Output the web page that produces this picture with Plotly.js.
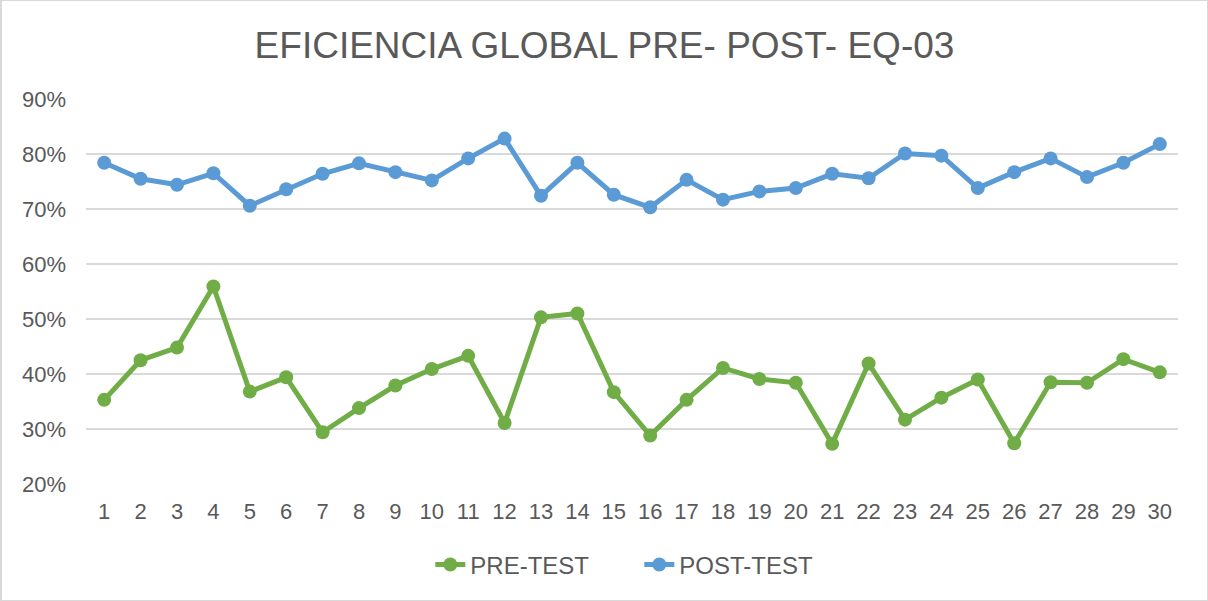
<!DOCTYPE html>
<html>
<head>
<meta charset="utf-8">
<script src="https://cdn.plot.ly/plotly-3.0.1.min.js"></script>
<style>
html,body{margin:0;padding:0;background:#fff;}
#chart{width:1208px;height:601px;box-sizing:border-box;border:1px solid #d9d9d9;border-left:2px solid #d9d9d9;}
</style>
</head>
<body>
<div id="chart"></div>
<script>
const categories = ['1','2','3','4','5','6','7','8','9','10','11','12','13','14','15','16','17','18','19','20','21','22','23','24','25','26','27','28','29','30'];
const preTest = [35.3,42.5,44.8,55.9,36.8,39.4,29.4,33.8,37.9,40.9,43.3,31.1,50.3,51.0,36.7,28.8,35.3,41.1,39.1,38.4,27.3,41.9,31.7,35.7,39.0,27.4,38.5,38.4,42.7,40.3];
const postTest = [78.4,75.5,74.4,76.5,70.6,73.6,76.4,78.3,76.7,75.2,79.2,82.8,72.4,78.4,72.6,70.3,75.3,71.7,73.2,73.8,76.4,75.6,80.1,79.7,73.8,76.7,79.2,75.8,78.4,81.8];
const yTicks = [20,30,40,50,60,70,80,90];

const traces = [
  {x: categories, y: preTest, name: 'PRE-TEST', type: 'scatter', mode: 'lines+markers',
   line: {color: '#70AD47', width: 5}, marker: {color: '#70AD47', size: 14}},
  {x: categories, y: postTest, name: 'POST-TEST', type: 'scatter', mode: 'lines+markers',
   line: {color: '#5B9BD5', width: 5}, marker: {color: '#5B9BD5', size: 14}}
];

const layout = {
  width: 1205, height: 599,
  margin: {l: 84, r: 29, t: 98, b: 116},
  paper_bgcolor: '#fff', plot_bgcolor: '#fff',
  font: {family: '"Liberation Sans", Arial, sans-serif', color: '#595959', size: 22},
  title: {text: 'EFICIENCIA GLOBAL PRE- POST- EQ-03', x: 0.5, xanchor: 'center', xref: 'container',
          y: 0.926, yanchor: 'middle', yref: 'container',
          font: {size: 37, color: '#595959'}},
  xaxis: {type: 'category', range: [-0.5, 29.5], showgrid: false, zeroline: false, showline: false, ticks: '',
          ticklabelstandoff: 12, tickfont: {size: 22, color: '#595959'}, fixedrange: true},
  yaxis: {range: [20, 90], tickvals: yTicks, ticktext: yTicks.map(v => v + '%'),
          showgrid: true, gridcolor: '#d9d9d9', gridwidth: 1.5, zeroline: false, showline: false, ticks: '',
          ticklabelstandoff: 19, tickfont: {size: 22, color: '#595959'}, fixedrange: true},
  showlegend: true,
  legend: {orientation: 'h', x: 0.3153, xanchor: 'left', y: -0.21, yanchor: 'middle',
           font: {size: 24, color: '#595959'}, entrywidth: 164, entrywidthmode: 'pixels', tracegroupgap: 0}
};

Plotly.newPlot('chart', traces, layout, {displayModeBar: false, staticPlot: true});
</script>
</body>
</html>
